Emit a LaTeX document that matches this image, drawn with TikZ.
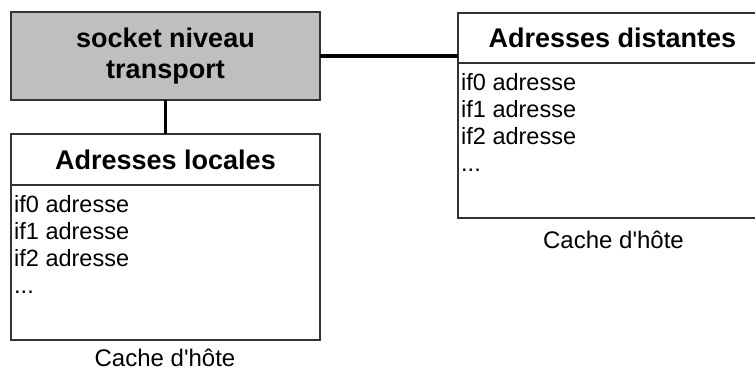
\documentclass[tikz,border=0pt]{standalone}
\usepackage{fontspec}
\setmainfont{Liberation Sans}
\usetikzlibrary{positioning}

\begin{document}
\begin{tikzpicture}[x = 1pt, y = -1pt,
	box/.style = {draw = black!80, line width = 1.2pt, inner sep = 0pt, outer sep = 0pt, minimum width = 309pt},
	head/.style = {box, font = \fontsize{27}{31}\selectfont\bfseries},
	list/.style = {align = left, inner sep = 0pt, anchor = north west, font = \fontsize{23.5}{27}\selectfont},
	note/.style = {anchor = base, inner sep = 0pt, font = \fontsize{24}{27}\selectfont},
	link/.style = {line width = 3.5pt}]

	\useasboundingbox (0, 0) rectangle (755, 371);

	% Socket
	
	\node [head, fill = gray!50, minimum height = 88pt, align = center] (socket) at (165.5, 56) {socket niveau\\transport};
	
	% Local addresses
	
	\node [head, minimum height = 51pt] (lochead) at (165.5, 159.5) {Adresses locales};
	\node [box, minimum height = 155pt, below = 0pt of lochead] (locbody) {};
	\node [list] (loclist) at ([xshift = 3pt, yshift = -10pt] locbody.north west) {if0 adresse\\if1 adresse\\if2 adresse\\...};
	\node [note] (loccache) at (165, 366) {Cache d\textquotesingle h\^ote};
	
	% Remote addresses
	
	\node [head, minimum height = 50pt] (remhead) at (612.5, 38) {Adresses distantes};
	\node [box, minimum height = 155pt, below = 0pt of remhead] (rembody) {};
	\node [list] (remlist) at ([xshift = 3pt, yshift = -10pt] rembody.north west) {if0 adresse\\if1 adresse\\if2 adresse\\...};
	\node [note] (remcache) at (613.5, 249) {Cache d\textquotesingle h\^ote};
	
	% Links
	
	\draw [link] (socket.south) -- (lochead.north);
	\draw [link] (socket.east) -- (socket.east -| remhead.west);

\end{tikzpicture}
\end{document}
